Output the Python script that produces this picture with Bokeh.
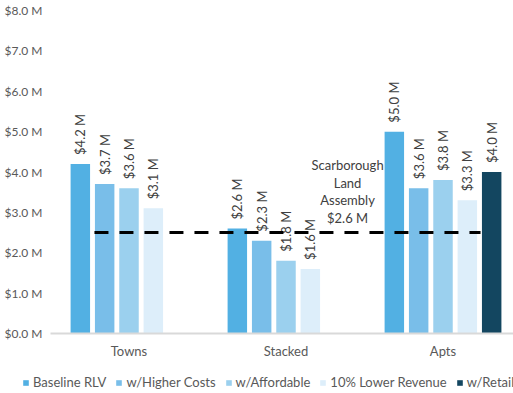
import numpy as np
from bokeh.plotting import figure
from bokeh.models import (Range1d, FixedTicker, Legend, LegendItem,
                          ColumnDataSource, Label)
from bokeh.transform import dodge
from bokeh.core.properties import value
from bokeh.embed import file_html
from bokeh.resources import INLINE

# ---- data ----
categories = ["Towns", "Stacked", "Apts"]
series_names = ["Baseline RLV", "w/Higher Costs", "w/Affordable",
                "10% Lower Revenue", "w/Retail"]
baseline_rlv = [4.2, 2.6, 5.0]
higher_costs = [3.7, 2.3, 3.6]
affordable = [3.6, 1.8, 3.8]
lower_revenue = [3.1, 1.6, 3.3]
retail = [None, None, 4.0]
threshold_value = 2.5
threshold_text = "Scarborough\nLand\nAssembly\n$2.6 M"
y_ticks = [0, 1, 2, 3, 4, 5, 6, 7, 8]
y_tick_labels = ["$0.0 M", "$1.0 M", "$2.0 M", "$3.0 M", "$4.0 M",
                 "$5.0 M", "$6.0 M", "$7.0 M", "$8.0 M"]

# ---- style ----
colors = ["#52B0E3", "#79BEE9", "#9BD0EE", "#DDEEFA", "#134660"]
FONT = "Lato"
GRAY = "#595959"
DARK = "#404040"
pitch = 0.155
bar_w = 0.124
offsets = [(i - 2) * pitch for i in range(5)]

cat_x = [i + 0.5 for i in range(len(categories))]

p = figure(width=513, height=362, output_backend="svg", toolbar_location=None,
           x_range=Range1d(0, 2.949), y_range=Range1d(0, 8),
           min_border_left=50, min_border_right=0, min_border_top=10,
           min_border_bottom=29, outline_line_color=None)
p.xgrid.grid_line_color = None
p.ygrid.grid_line_color = None

all_series = [baseline_rlv, higher_costs, affordable, lower_revenue, retail]
for name, vals, col, off in zip(series_names, all_series, colors, offsets):
    xs = [x for x, v in zip(cat_x, vals) if v is not None]
    ys = [v for v in vals if v is not None]
    labels = ["$%.1f M" % v for v in ys]
    src = ColumnDataSource(dict(x=xs, top=ys, label=labels))
    p.vbar(x=dodge("x", off, range=p.x_range), top="top", bottom=0,
           width=bar_w, source=src, fill_color=col, line_color=None)
    p.text(x=dodge("x", off, range=p.x_range), y="top", text="label",
           source=src, angle=np.pi / 2, text_align="left",
           text_baseline="middle", y_offset=-9,
           text_font=value(FONT), text_font_size="13px", text_color=DARK)

# threshold dashed line
p.line(x=[0.280, 2.739], y=[threshold_value, threshold_value],
       line_color="black", line_width=3, line_dash="14 11")
p.add_layout(Label(x=1.892, y=threshold_value + 0.16, text=threshold_text,
                   text_align="center", text_baseline="bottom",
                   text_font=FONT, text_font_size="13px", text_color=DARK,
                   text_line_height=1.1))

# axes
p.xaxis.ticker = FixedTicker(ticks=cat_x)
p.xaxis.major_label_overrides = {x: c for x, c in zip(cat_x, categories)}
p.xaxis.major_tick_out = 0
p.xaxis.major_tick_in = 0
p.xaxis.minor_tick_line_color = None
p.xaxis.axis_line_color = "#D9D9D9"
p.xaxis.axis_line_width = 2
p.xaxis.major_label_standoff = 9
p.xaxis.major_label_text_font = FONT
p.xaxis.major_label_text_font_size = "13px"
p.xaxis.major_label_text_color = GRAY

p.yaxis.ticker = FixedTicker(ticks=y_ticks)
p.yaxis.major_label_overrides = {t: l for t, l in zip(y_ticks, y_tick_labels)}
p.yaxis.major_tick_out = 0
p.yaxis.major_tick_in = 0
p.yaxis.minor_tick_line_color = None
p.yaxis.axis_line_color = None
p.yaxis.major_label_standoff = 8
p.yaxis.major_label_text_font = FONT
p.yaxis.major_label_text_font_size = "12px"
p.yaxis.major_label_text_color = GRAY

# ---- legend strip (separate root, so its frame spans the full width) ----
lg = figure(width=513, height=31, output_backend="svg", toolbar_location=None,
            x_range=Range1d(0, 1), y_range=Range1d(0, 1),
            x_axis_location=None, y_axis_location=None,
            min_border=0, outline_line_color=None)
lg.grid.grid_line_color = None
items = []
for name, col in zip(series_names, colors):
    r = lg.vbar(x=[-5], top=[-5], bottom=-6, width=0.1,
                fill_color=col, line_color=None)
    items.append(LegendItem(label=name, renderers=[r]))
legend = Legend(items=items, orientation="horizontal", location=(22, 3),
                glyph_width=7, glyph_height=7, label_standoff=4, spacing=9,
                label_height=14, padding=0, margin=0,
                label_text_font=FONT, label_text_font_size="13px",
                label_text_color=GRAY, border_line_color=None,
                background_fill_alpha=0)
lg.add_layout(legend, "center")

open("out.html", "w").write(file_html([p, lg], INLINE))
